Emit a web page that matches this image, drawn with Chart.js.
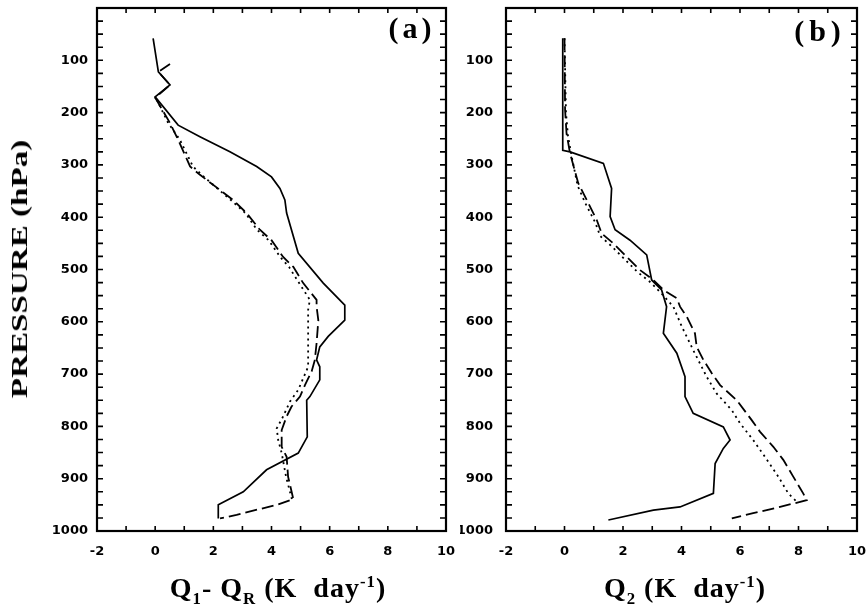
<!DOCTYPE html>
<html>
<head>
<meta charset="utf-8">
<script src="https://cdn.jsdelivr.net/npm/chart.js@4.4.1/dist/chart.umd.min.js"></script>
<style>
  body { margin: 0; background: #fff; }
  #page { position: relative; width: 867px; height: 609px; overflow: hidden; font-family: "Liberation Serif", "Times New Roman", serif; color: #000; }
  .box { position: absolute; top: 0; height: 609px; }
  #boxA { left: 0; width: 460px; }
  #boxB { left: 460px; width: 407px; }
  .txt { position: absolute; font-weight: bold; white-space: nowrap; }
  .xt { font-size: 28px; line-height: 28px; top: 574px; letter-spacing: 1px; transform: translateX(-50%); }
  .xt sub, .xt sup { font-size: 60%; line-height: 0; }
  .pl { font-size: 30px; line-height: 30px; transform: translateX(-50%); }
  #ytitle { left: 19px; top: 269px; font-size: 24px; line-height: 24px; transform: translate(-50%, -50%) rotate(-90deg) scaleX(1.38); }
</style>
</head>
<body>
<div id="page">
  <div class="box" id="boxA"><canvas id="chartA"></canvas></div>
  <div class="box" id="boxB"><canvas id="chartB"></canvas></div>
  <div class="txt" id="ytitle">PRESSURE (hPa)</div>
  <div class="txt xt" style="left:278px">Q<sub>1</sub>- Q<sub>R</sub> (K&nbsp; day<sup>-1</sup>)</div>
  <div class="txt xt" style="left:685px">Q<sub>2</sub> (K&nbsp; day<sup>-1</sup>)</div>
  <div class="txt pl" style="left:412px; top:13px; letter-spacing:4px">(a)</div>
  <div class="txt pl" style="left:820px; top:16px; letter-spacing:5px">(b)</div>
</div>
<script>
// panel (a): Q1 - QR profiles, pressure in hPa
const aSolidP = [58, 122, 147, 170, 224, 246, 275, 303, 323, 345, 367, 392, 469, 526, 568, 597, 628, 648, 673, 686, 711, 743, 750, 820, 851, 883, 925, 950, 976];
const aSolidQ = [-0.07, 0.11, 0.51, 0.0, 0.79, 1.54, 2.57, 3.49, 4.0, 4.29, 4.46, 4.52, 4.92, 5.78, 6.52, 6.52, 5.95, 5.66, 5.55, 5.66, 5.66, 5.32, 5.21, 5.23, 4.92, 3.83, 3.03, 2.17, 2.17];
const aDashP = [107, 122, 147, 172, 176, 220, 252, 303, 319, 348, 367, 392, 424, 444, 476, 495, 526, 558, 571, 597, 641, 673, 695, 721, 743, 762, 781, 807, 839, 858, 896, 939, 950, 969, 976];
const aDashQ = [0.51, 0.11, 0.51, 0.0, 0.05, 0.51, 0.79, 1.2, 1.54, 2.23, 2.68, 3.14, 3.6, 4.0, 4.4, 4.75, 5.09, 5.55, 5.55, 5.61, 5.55, 5.49, 5.38, 5.15, 4.98, 4.69, 4.52, 4.35, 4.35, 4.52, 4.57, 4.75, 4.18, 2.8, 2.23];
const aDotP = [175, 220, 252, 303, 319, 348, 367, 392, 424, 444, 476, 495, 526, 558, 577, 635, 686, 708, 730, 753, 781, 804, 826, 851, 896, 939];
const aDotQ = [0.05, 0.45, 0.85, 1.3, 1.6, 2.2, 2.6, 3.1, 3.5, 3.9, 4.3, 4.6, 4.95, 5.32, 5.26, 5.26, 5.26, 5.09, 4.92, 4.63, 4.4, 4.18, 4.23, 4.35, 4.5, 4.7];

// panel (b): Q2 profiles
const bSolidP = [58, 272, 275, 297, 345, 399, 424, 444, 472, 520, 539, 571, 622, 660, 705, 743, 775, 801, 826, 842, 871, 928, 954, 960, 979];
const bSolidQ = [-0.06, -0.06, 0.19, 1.33, 1.61, 1.56, 1.73, 2.24, 2.81, 2.98, 3.32, 3.49, 3.38, 3.84, 4.12, 4.12, 4.4, 5.43, 5.66, 5.43, 5.15, 5.09, 3.95, 3.04, 1.5];
const bDashP = [58, 195, 240, 278, 335, 367, 405, 431, 450, 476, 501, 520, 539, 555, 571, 590, 622, 648, 673, 698, 721, 750, 788, 810, 839, 864, 896, 928, 941, 954, 966, 976];
const bDashQ = [0.0, 0.02, 0.07, 0.19, 0.47, 0.76, 1.1, 1.27, 1.67, 2.13, 2.58, 3.04, 3.38, 3.84, 3.95, 4.18, 4.46, 4.52, 4.75, 5.03, 5.32, 5.89, 6.4, 6.68, 7.14, 7.48, 7.82, 8.16, 8.28, 7.37, 6.45, 5.72];
const bDotP = [58, 200, 245, 285, 340, 372, 410, 436, 455, 480, 505, 525, 545, 571, 609, 654, 705, 737, 769, 794, 826, 858, 896, 928, 944];
const bDotQ = [0.0, 0.05, 0.12, 0.25, 0.45, 0.7, 1.05, 1.22, 1.6, 2.05, 2.5, 2.95, 3.3, 3.72, 4.01, 4.4, 4.86, 5.2, 5.72, 6.0, 6.45, 6.85, 7.31, 7.65, 7.94];

const xMin = -2, xMax = 10, xStep = 1;
const pTop = 0, pBottom = 1000, pStep = 25;

function pts(p, q) {
    return p.map((v, i) => ({ x: q[i], y: v }));
}

function series(p, q, dash) {
    return {
        data: pts(p, q),
        showLine: true,
        borderColor: '#000',
        borderWidth: dash.length ? 1.8 : 1.7,
        borderDash: dash,
        pointRadius: 0,
        tension: 0
    };
}

// box and inward ticks on all four sides
const frame = {
    id: 'frame',
    afterDraw(chart) {
        const { ctx, chartArea: a, scales: { x, y } } = chart;
        ctx.save();
        ctx.strokeStyle = '#000';
        ctx.lineWidth = 1.6;
        ctx.beginPath();
        x.ticks.forEach(t => {
            const px = x.getPixelForValue(t.value);
            ctx.moveTo(px, a.bottom); ctx.lineTo(px, a.bottom - 5);
            ctx.moveTo(px, a.top); ctx.lineTo(px, a.top + 5);
        });
        y.ticks.forEach(t => {
            const py = y.getPixelForValue(t.value);
            ctx.moveTo(a.left, py); ctx.lineTo(a.left + 6, py);
            ctx.moveTo(a.right, py); ctx.lineTo(a.right - 6, py);
        });
        ctx.stroke();
        ctx.lineWidth = 2.2;
        ctx.strokeRect(a.left, a.top, a.right - a.left, a.bottom - a.top);
        ctx.restore();
    }
};

const tickFont = { family: 'DejaVu Sans', weight: 'bold', size: 13 };

function makeChart(id, datasets, yWidth, yPad, rightPad) {
    return new Chart(document.getElementById(id), {
        type: 'scatter',
        data: { datasets: datasets },
        options: {
            responsive: true,
            maintainAspectRatio: false,
            animation: false,
            layout: { padding: { top: 8, right: rightPad, left: 0, bottom: 0 } },
            plugins: { legend: { display: false }, tooltip: { enabled: false } },
            scales: {
                x: {
                    type: 'linear',
                    min: xMin, max: xMax,
                    grid: { display: false, drawTicks: false },
                    border: { display: false },
                    ticks: {
                        stepSize: xStep, autoSkip: false, maxRotation: 0,
                        padding: 13, color: '#000', font: tickFont,
                        callback: v => (v % 2 === 0 ? String(v) : '')
                    },
                    afterFit(axis) {
                        axis.height = 78;
                        axis.paddingLeft = 0;
                        axis.paddingRight = 0;
                    }
                },
                y: {
                    type: 'linear',
                    reverse: true,
                    min: pTop, max: pBottom,
                    grid: { display: false, drawTicks: false },
                    border: { display: false },
                    ticks: {
                        stepSize: pStep, autoSkip: false,
                        padding: yPad, color: '#000', font: tickFont,
                        callback: v => (v % 100 === 0 && v > 0 ? String(v) : '')
                    },
                    afterFit(axis) {
                        axis.width = yWidth;
                        axis.paddingTop = 0;
                        axis.paddingBottom = 0;
                    }
                }
            }
        },
        plugins: [frame]
    });
}

makeChart('chartA', [
    series(aSolidP, aSolidQ, []),
    series(aDashP, aDashQ, [12, 5]),
    series(aDotP, aDotQ, [2, 4])
], 97, 9, 14);

makeChart('chartB', [
    series(bSolidP, bSolidQ, []),
    series(bDashP, bDashQ, [12, 5]),
    series(bDotP, bDotQ, [2, 4])
], 46, 13, 10);
</script>
</body>
</html>
